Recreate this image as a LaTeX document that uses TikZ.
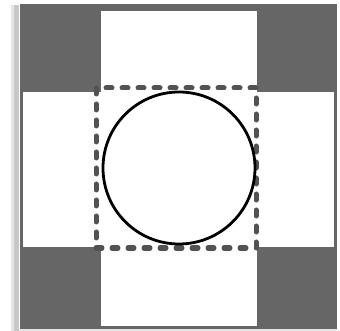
\documentclass[tikz,border=0pt]{standalone}
\begin{document}
\begin{tikzpicture}[x=1pt,y=-1pt,
  board/.style={fill=black!60},
  crossfill/.style={fill=white},
  dashbox/.style={draw=black!68,line width=5pt,line cap=round,dash pattern=on 6pt off 10pt},
  ring/.style={draw=black,line width=2.8pt}]
\useasboundingbox (0,0) rectangle (340,331);
\fill[white] (0,0) rectangle (340,331);
% shadow on the left
\fill[black!10] (11,5) rectangle (19,331);
\fill[black!22] (14,5) rectangle (19,331);
\fill[black!10] (19,329) rectangle (338,331);
% gray board
\fill[board] (20,4) rectangle (337,329);
% white cross
\fill[crossfill] (101,11) rectangle (257,326);
\fill[crossfill] (23,92) rectangle (334,247);
% dashed square
\draw[dashbox] (96,88) rectangle (256,248);
% circle
\node[ring,circle,minimum size=152pt,inner sep=0pt] (c) at (179,168) {};
\end{tikzpicture}
\end{document}
